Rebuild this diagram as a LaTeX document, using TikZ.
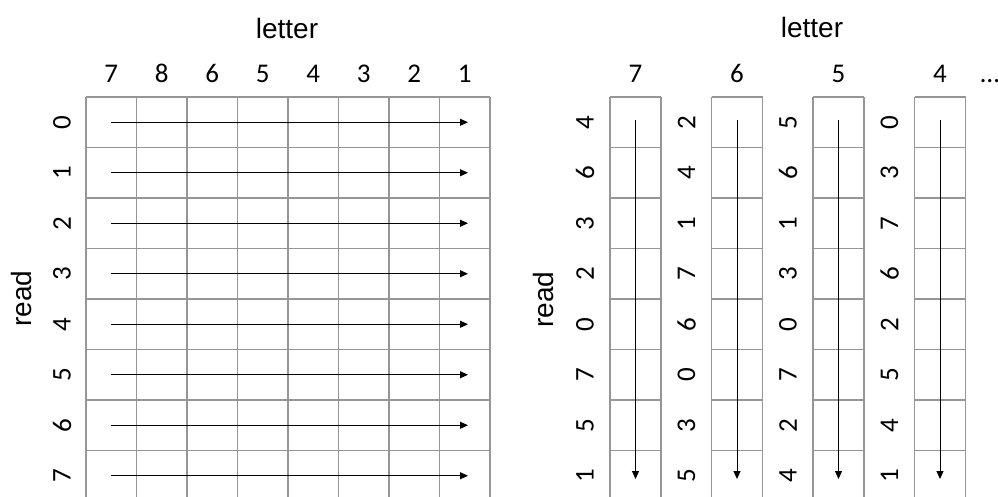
\documentclass[tikz,border=0pt]{standalone}
\usepackage{fontspec}
\setmainfont{Liberation Sans}
\newfontfamily\digitfont{Carlito}
\usetikzlibrary{arrows.meta}
\definecolor{gridgray}{RGB}{150,150,150}
\begin{document}
\begin{tikzpicture}[x=1pt,y=-1pt,
  gridline/.style={draw=gridgray,line width=1.3pt},
  flow/.style={draw=black,line width=1pt,-{Triangle[length=8pt,width=7pt]}},
  digit/.style={font=\digitfont\fontsize{27}{31}\selectfont,inner sep=0pt},
  rdigit/.style={digit,rotate=90},
  title/.style={font=\fontsize{28}{32}\selectfont,inner sep=0pt}]
\useasboundingbox (0,0) rectangle (998,496);
\clip (0,0) rectangle (998,496);
% ---------- left grid ----------
\foreach \i in {0,...,8} {
  \draw[gridline] ({86+50.5*\i},97) -- ({86+50.5*\i},501.5);
  \draw[gridline] (86,{97+50.5*\i}) -- (490,{97+50.5*\i});
}
\node[title] (lettL) at (287,28) {letter};
\node[title,rotate=90] (readL) at (21,298.5) {read};
\foreach \v [count=\k from 0] in {7,8,6,5,4,3,2,1}
  \node[digit] (colL\k) at ({111.25+50.5*\k},73.5) {\v};
\foreach \k in {0,...,7} {
  \node[rdigit] (rowL\k) at (62,{122.25+50.5*\k}) {\k};
  \coordinate (aS\k) at (111,{122.25+50.5*\k});
  \coordinate (aE\k) at (468,{122.25+50.5*\k});
  \draw[flow] (aS\k) -- (aE\k);
}
% ---------- right columns ----------
\node[title] (lettR) at (812,27) {letter};
\node[title,rotate=90] (readR) at (543,299.5) {read};
\foreach \h/\vals [count=\c from 0] in {7/{4,6,3,2,0,7,5,1},6/{2,4,1,7,6,0,3,5},5/{5,6,1,3,0,7,2,4},4/{0,3,7,6,2,5,4,1}} {
  \pgfmathsetmacro{\xl}{610+101.5*\c}
  \foreach \i in {0,...,8}
    \draw[gridline] (\xl,{97+50.5*\i}) -- ({\xl+51},{97+50.5*\i});
  \draw[gridline] (\xl,97) -- (\xl,501.5);
  \draw[gridline] ({\xl+51},97) -- ({\xl+51},501.5);
  \node[digit] (colR\c) at ({\xl+25.5},73.5) {\h};
  \foreach \v [count=\r from 0] in \vals
    \node[rdigit] (rowR\c\r) at ({\xl-25},{122.25+50.5*\r}) {\v};
  \coordinate (bS\c) at ({\xl+25.5},120);
  \coordinate (bE\c) at ({\xl+25.5},479);
  \draw[flow] (bS\c) -- (bE\c);
}
\node[digit,anchor=base] (dots) at (990,82) {…};
\end{tikzpicture}
\end{document}
